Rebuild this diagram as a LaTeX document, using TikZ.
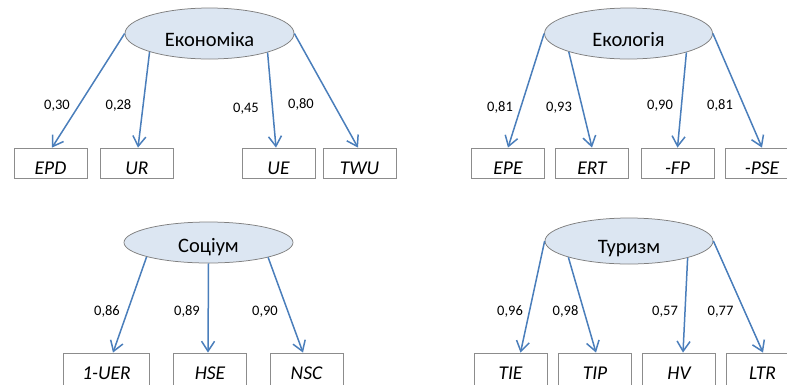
\documentclass[tikz,border=0pt]{standalone}
\usepackage{fontspec}
\setmainfont{Carlito}
\usetikzlibrary{shapes.geometric,arrows.meta}
\definecolor{arrowblue}{HTML}{4A7EBB}
\definecolor{ellfill}{HTML}{DCE6F2}
\definecolor{ellline}{HTML}{7F7F7F}
\definecolor{boxline}{HTML}{8C8C8C}
\begin{document}
\begin{tikzpicture}[x=1pt,y=-1pt,
  factor/.style={ellipse, draw=ellline, line width=0.75pt, fill=ellfill,
    minimum width=168pt, minimum height=51pt, inner sep=0pt,
    font=\fontsize{20.5}{24}\selectfont, text height=25pt, text depth=0pt},
  indbox/.style={rectangle, draw=boxline, line width=0.8pt, fill=white,
    minimum width=73pt, minimum height=30pt, inner sep=0pt,
    font=\fontsize{19.5}{23}\selectfont\itshape, text height=22pt, text depth=0pt},
  lowbox/.style={indbox, minimum height=34pt, text height=18pt},
  coef/.style={anchor=base, inner sep=0pt, font=\fontsize{14.5}{17}\selectfont},
  load/.style={draw=arrowblue, line width=1.5pt, -{Straight Barb[length=10pt,width=13pt]}}
]
\useasboundingbox (0,0) rectangle (787,384);
\clip (0,0) rectangle (787,384);

% ---------- Економіка ----------
\node[factor, minimum width=169pt] (eco) at (209.5,33.5) {Економіка};
\node[indbox] (epd) at (50.5,163) {EPD};
\node[indbox] (ur)  at (137,163)  {UR};
\node[indbox] (ue)  at (278.5,163) {UE};
\node[indbox] (twu) at (359.5,163) {TWU};
\draw[load] (eco.180)   -- ([xshift=1.5pt]epd.north);
\draw[load] (eco.197.5) -- ([xshift=1pt]ur.north);
\draw[load] (eco.342.7) -- ([xshift=-2.5pt]ue.north);
\draw[load] (eco.0)     -- ([xshift=-1.5pt]twu.north);
\node[coef] (c1) at (57,109.6)   {0,30};
\node[coef] (c2) at (118.5,109.6) {0,28};
\node[coef] (c3) at (246,112)    {0,45};
\node[coef] (c4) at (301,108)    {0,80};

% ---------- Екологія ----------
\node[factor] (ecl) at (628.5,33.5) {Екологія};
\node[indbox] (epe) at (508,163)   {EPE};
\node[indbox] (ert) at (592,163)   {ERT};
\node[indbox] (fp)  at (677.5,163) {-FP};
\node[indbox] (pse) at (762,163)   {-PSE};
\draw[load] (ecl.180)   -- (epe.north);
\draw[load] (ecl.197.5) -- (ert.north);
\draw[load] (ecl.342.5) -- (fp.north);
\draw[load] (ecl.0)     -- (pse.north);
\node[coef] (c5) at (500,111.6) {0,81};
\node[coef] (c6) at (559,111.6) {0,93};
\node[coef] (c7) at (660,109.6) {0,90};
\node[coef] (c8) at (720,109.6) {0,81};

% ---------- Соціум ----------
\node[factor, minimum width=169pt, minimum height=41pt, text height=20pt] (soc) at (208.5,242.5) {Соціум};
\node[lowbox, minimum width=86pt] (uer) at (106.5,370) {1-UER};
\node[lowbox] (hse) at (210,370)   {HSE};
\node[lowbox] (nsc) at (306.5,370) {NSC};
\draw[load] (soc.193.5) -- ([xshift=6.5pt]uer.north);
\draw[load] (soc.270)   -- ([xshift=-2pt]hse.north);
\draw[load] (soc.346.3) -- ([xshift=-3.5pt]nsc.north);
\node[coef] (c9)  at (107,315.1) {0,86};
\node[coef] (c10) at (187,315.1) {0,89};
\node[coef] (c11) at (265,315.1) {0,90};

% ---------- Туризм ----------
\node[factor, minimum height=46pt, text height=24pt] (tour) at (629,241) {Туризм};
\node[lowbox] (tie) at (510.5,370) {TIE};
\node[lowbox] (tip) at (595,370)   {TIP};
\node[lowbox] (hv)  at (679,370)   {HV};
\node[lowbox] (ltr) at (762.5,370) {LTR};
\draw[load] (tour.180)   -- ([xshift=10pt]tie.north);
\draw[load] (tour.195.8) -- ([xshift=1pt]tip.north);
\draw[load] (tour.344)   -- ([xshift=4pt]hv.north);
\draw[load] (tour.0)     -- ([xshift=0.5pt]ltr.north);
\node[coef] (c12) at (510,315.1)   {0,96};
\node[coef] (c13) at (565.5,315.1) {0,98};
\node[coef] (c14) at (665,315.1)   {0,57};
\node[coef] (c15) at (720.5,315.1) {0,77};
\end{tikzpicture}
\end{document}
